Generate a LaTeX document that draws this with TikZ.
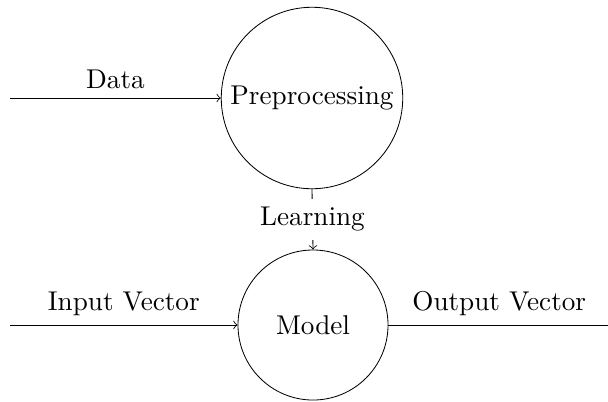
\documentclass[tikz,border=0pt]{standalone}
\usetikzlibrary{arrows}
\begin{document}
\begin{tikzpicture}[x=0.3846pt,y=-0.3846pt,
  every node/.style={font=\fontsize{10.45}{12.5}\selectfont},
  every path/.style={line width=0.32pt},
  proc/.style={circle,draw,inner sep=0pt},
  flow/.style={->},
  lbl/.style={fill=white}]
\useasboundingbox (0,0) rectangle (608,401);
\node[proc,minimum size=69.8pt] (pre) at (312,98) {Preprocessing};
\node[proc,minimum size=57.7pt] (model) at (313,325) {Model};
\coordinate (din) at (10,98);
\coordinate (vin) at (10,325);
\coordinate (vout) at (610,325);
\draw[flow] (din) -- node[above] {Data} (pre.west);
\draw[flow] (pre.south) -- node[lbl] {Learning} (model.north);
\draw[flow] (vin) -- node[above] {Input Vector} (model.west);
\draw (model.east) -- node[above] {Output Vector} (vout);
\end{tikzpicture}
\end{document}
